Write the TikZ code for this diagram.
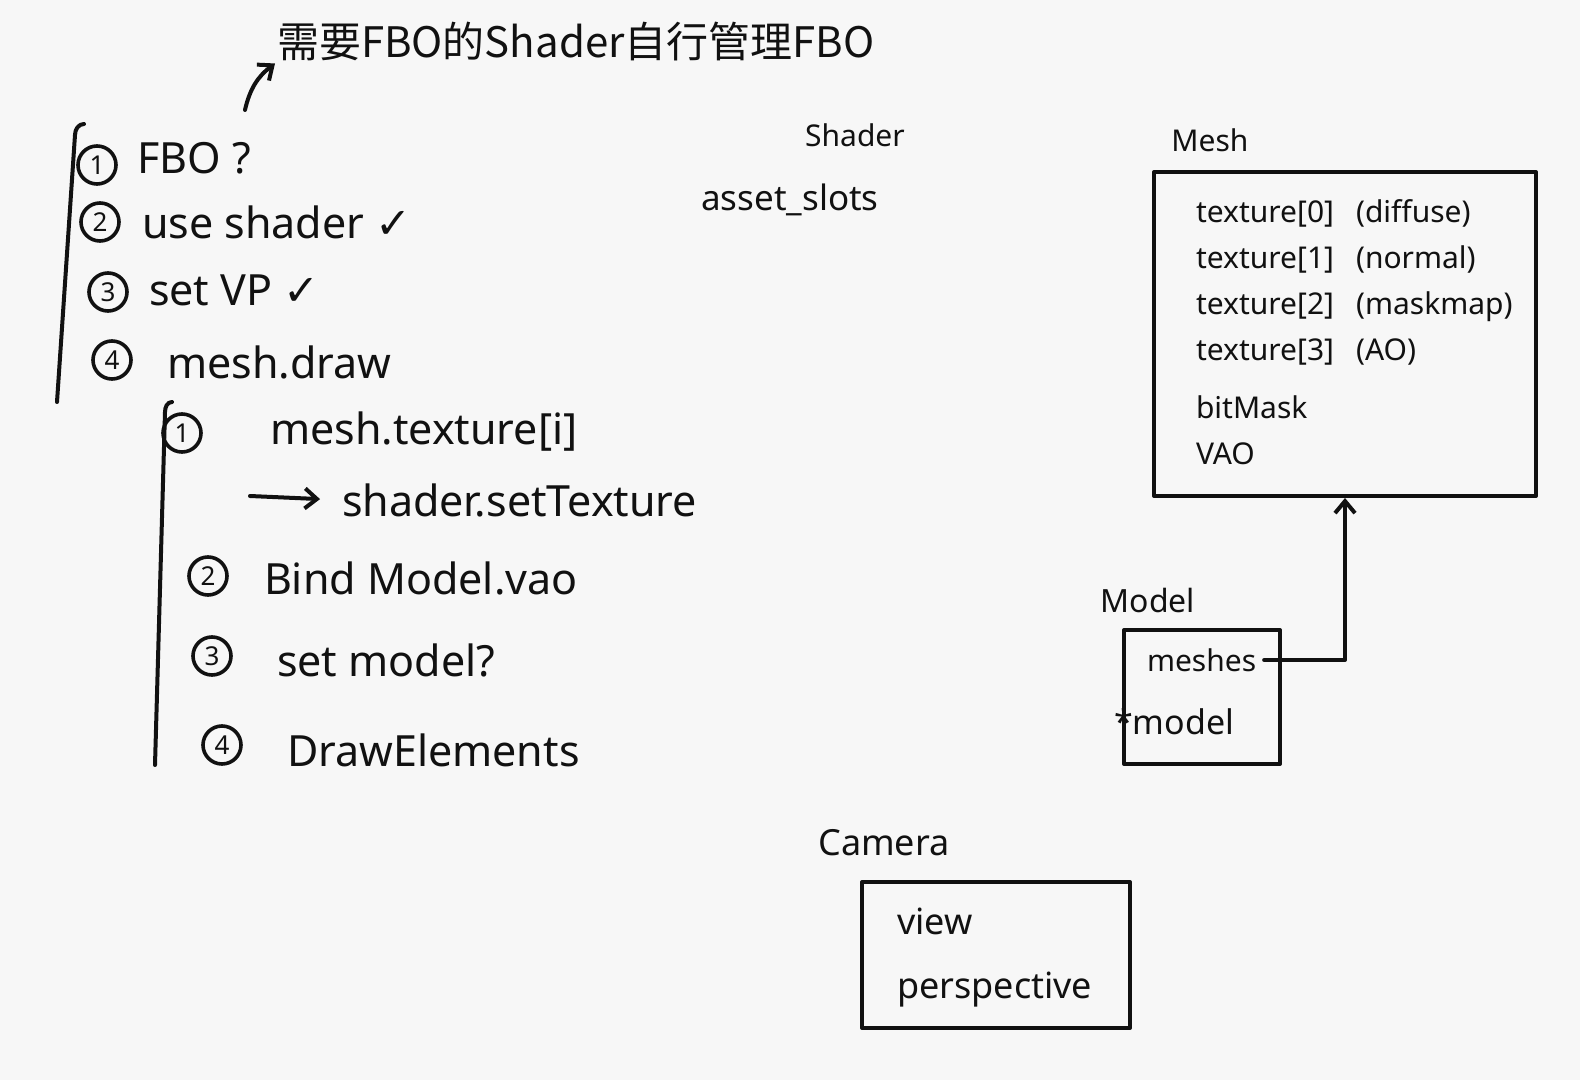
\documentclass[tikz,border=0pt]{standalone}
\usepackage{fontspec}
\setmainfont{Noto Sans}
\newfontfamily\cjk{Noto Sans CJK SC}
\newfontfamily\symb{DejaVu Sans}
\usetikzlibrary{arrows.meta}
\newcommand{\fsz}[2]{\fontsize{#1}{#2}\selectfont}

\begin{document}
\begin{tikzpicture}[x=0.5pt, y=-0.5pt, line width=2pt, line cap=round, line join=round,
    num/.style={circle, draw, line width=1.8pt, inner sep=0pt, minimum size=19pt, font=\fsz{13}{13}},
    item/.style={anchor=west, inner sep=0pt, font=\fsz{21.5}{26}},
    box/.style={draw, rectangle, inner sep=0pt, anchor=north west},
    title/.style={inner sep=0pt, font=\fsz{15}{18}},
    >={Straight Barb[length=6pt, width=10pt]}]
    % Define colors
    \definecolor{paper}{RGB}{247,247,247}
    \definecolor{ink}{RGB}{17,17,17}

    % Canvas
    \fill[paper] (0,0) rectangle (1580,1080);
    \useasboundingbox (0,0) rectangle (1580,1080);
    \begin{scope}[color=ink]

    % Note on top
    \node[inner sep=0pt, anchor=west, font=\cjk\fsz{21}{24}] (note) at (275,42) {需要FBO的Shader自行管理FBO};

    % Render steps
    \draw (84,124) to[out=180, in=90] (75,135) -- (57,402);
    \foreach \n/\x/\y in {1/97/165, 2/100/222, 3/108/292, 4/112/360}
        \node[num] (s\n) at (\x,\y) {\n};
    \node[item] (fbo) at (135,158) {FBO ?};
    \node[item] (useshader) at (140,222) {use shader {\symb ✓}};
    \node[item] (setvp) at (147,290) {set VP {\symb ✓}};
    \node[item] (meshdraw) at (165,362) {mesh.draw};
    \coordinate (qtop) at (245,110);
    \draw[->] (qtop) to[bend left=20] (note.south west);

    % Steps of mesh.draw
    \draw (172,402) to[out=180, in=90] (165,412) -- (155,765);
    \foreach \n/\x/\y in {1/182/433, 2/208/576, 3/212/656, 4/222/745}
        \node[num] (d\n) at (\x,\y) {\n};
    \node[item] (textureget) at (268,432) {mesh.texture[i]};
    \coordinate (arrowstart) at (250,496);
    \node[item] (settex) at (340,500) {shader.setTexture};
    \draw[->, shorten >=10pt] (arrowstart) -- (settex.west);
    \node[item] (bindvao) at (262,578) {Bind Model.vao};
    \node[item] (setmodel) at (275,660) {set model?};
    \node[item] (drawel) at (285,750) {DrawElements};

    % Shader
    \node[title] (shader) at (855,135) {Shader};
    \node[title, font=\fsz{17.5}{20}] (slots) at (790,200) {asset\_slots};

    % Mesh
    \node[title] (meshtitle) at (1210,140) {Mesh};
    \node[box, minimum width=191pt, minimum height=162pt] (mesh) at (1152,170) {};
    \node[anchor=north west, inner sep=0pt, font=\fsz{15}{23}] (meshfields) at (1194,188) {%
        \begin{tabular}{@{}l@{\hspace{11pt}}l@{}}
        texture[0] & (diffuse)\\
        texture[1] & (normal)\\
        texture[2] & (maskmap)\\
        texture[3] & (AO)\\[6pt]
        bitMask & \\
        VAO &
        \end{tabular}};

    % Model
    \node[title, font=\fsz{16}{19}] (modeltitle) at (1148,600) {Model};
    \node[box, minimum width=78pt, minimum height=67pt] (model) at (1122,628) {};
    \node[item, font=\fsz{15}{18}] (meshes) at (1145,660) {meshes};
    \node[item, font=\fsz{17}{20}] (modelmat) at (1112,722) {*model};
    \draw[->] ([xshift=3pt]meshes.east) -| (mesh.south);

    % Camera
    \node[title, font=\fsz{18}{21}] (cameratitle) at (884,843) {Camera};
    \node[box, minimum width=134pt, minimum height=73pt] (camera) at (860,880) {};
    \node[anchor=north west, inner sep=0pt, font=\fsz{18}{32}] (camfields) at (895,888) {%
        \begin{tabular}{@{}l@{}}
        view\\
        perspective
        \end{tabular}};
    \end{scope}
\end{tikzpicture}
\end{document}
